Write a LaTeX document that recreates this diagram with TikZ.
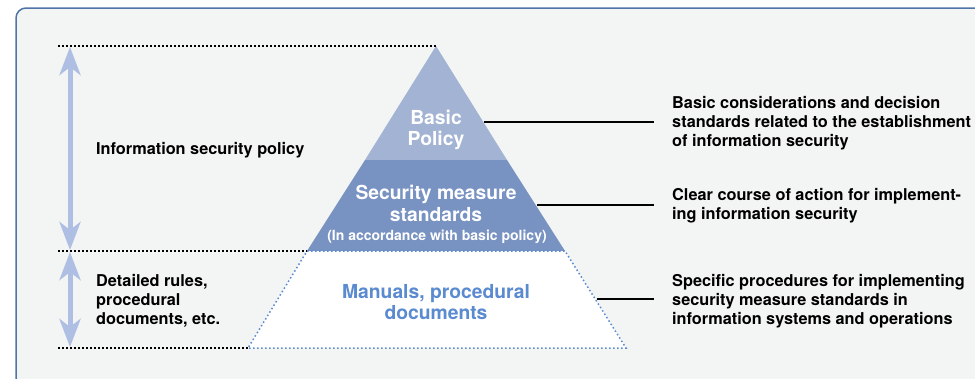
\documentclass[tikz,border=0pt]{standalone}
\usepackage{fontspec}
\setmainfont{TeX Gyre Heros}
\usetikzlibrary{arrows.meta}
\definecolor{panelfill}{HTML}{F3F4F4}
\definecolor{panelborder}{HTML}{4F74A8}
\definecolor{toplayer}{HTML}{A3B3D3}
\definecolor{midlayer}{HTML}{7892C2}
\definecolor{mantext}{HTML}{5A8AD0}
\definecolor{arrowblue}{HTML}{AEBFE3}
\definecolor{dotblue}{HTML}{5A8AD0}
\tikzset{
  blacktext/.style={font=\bfseries\fontsize{16.3}{19}\selectfont, align=left, inner sep=0pt, text=black},
  layertext/.style={font=\bfseries\fontsize{19.3}{21.5}\selectfont, align=center, inner sep=0pt, text=white},
  smalltext/.style={font=\bfseries\fontsize{14}{16}\selectfont, inner sep=0pt, text=white},
  leader/.style={draw=black, line width=1.2pt},
  blackdots/.style={draw=black, line width=1.8pt, dash pattern=on 1.8pt off 2.2pt},
  bigarrow/.style={draw=arrowblue, line width=5pt, {Stealth[width=21pt,length=28pt,inset=8pt]}-{Stealth[width=21pt,length=28pt,inset=8pt]}}
}
\begin{document}
\begin{tikzpicture}[x=1pt,y=-1pt]
\useasboundingbox (0,0) rectangle (975,378);
\clip (0,0) rectangle (975,378);
% panel
\draw[panelborder, fill=panelfill, line width=1.5pt, rounded corners=10pt] (16,8) rectangle (1000,410);
% pyramid coordinates
\coordinate (apex) at (436,46);
\coordinate (bpl) at (365,160);
\coordinate (bpr) at (507,160);
\coordinate (sml) at (307,251);
\coordinate (smr) at (565,251);
\coordinate (mbl) at (248,348);
\coordinate (mbr) at (626,348);
% layers
\fill[toplayer] (apex) -- (bpr) -- (bpl) -- cycle;
\fill[midlayer] (bpl) -- (bpr) -- (smr) -- (sml) -- cycle;
\draw[fill=white, draw=dotblue, line width=1.5pt, dash pattern=on 1.5pt off 2.5pt] (sml) -- (smr) -- (mbr) -- (mbl) -- cycle;
% black dotted lines
\coordinate (t0) at (58,46);
\coordinate (m0) at (58,251);
\coordinate (b0) at (58,348);
\draw[blackdots] (t0) -- (apex);
\draw[blackdots] (m0) -- (sml);
\draw[blackdots] (b0) -- (mbl);
% arrows
\coordinate (a1) at (70,47);
\coordinate (a2) at (70,250);
\coordinate (a3) at (70,252);
\coordinate (a4) at (70,347);
\draw[bigarrow] (a1) -- (a2);
\draw[bigarrow] (a3) -- (a4);
% layer texts
\node[layertext] (bp) at (436,130) {Basic\\Policy};
\node[layertext] (sm) at (436,203.5) {Security measure\\standards};
\node[smalltext] (acc) at (437,237) {(In accordance with basic policy)};
\node[layertext, text=mantext] (man) at (436,302) {Manuals, procedural\\documents};
% left texts
\node[blacktext, anchor=west] (isp) at (96,150) {Information security policy};
\node[blacktext, anchor=west] (dr) at (96,301) {Detailed rules,\\procedural\\documents, etc.};
% right texts
\node[blacktext, anchor=west] (r1) at (672,123) {Basic considerations and decision\\standards related to the establishment\\of information security};
\node[blacktext, anchor=west] (r2) at (672,206) {Clear course of action for implement-\\ing information security};
\node[blacktext, anchor=west] (r3) at (672,301) {Specific procedures for implementing\\security measure standards in\\information systems and operations};
% leader lines
\coordinate (l1a) at (484,122);
\coordinate (l1b) at (654,122);
\coordinate (l2a) at (537,205);
\coordinate (l2b) at (654,205);
\coordinate (l3a) at (597,299);
\coordinate (l3b) at (654,299);
\draw[leader] (l1a) -- (l1b);
\draw[leader] (l2a) -- (l2b);
\draw[leader] (l3a) -- (l3b);
\end{tikzpicture}
\end{document}
